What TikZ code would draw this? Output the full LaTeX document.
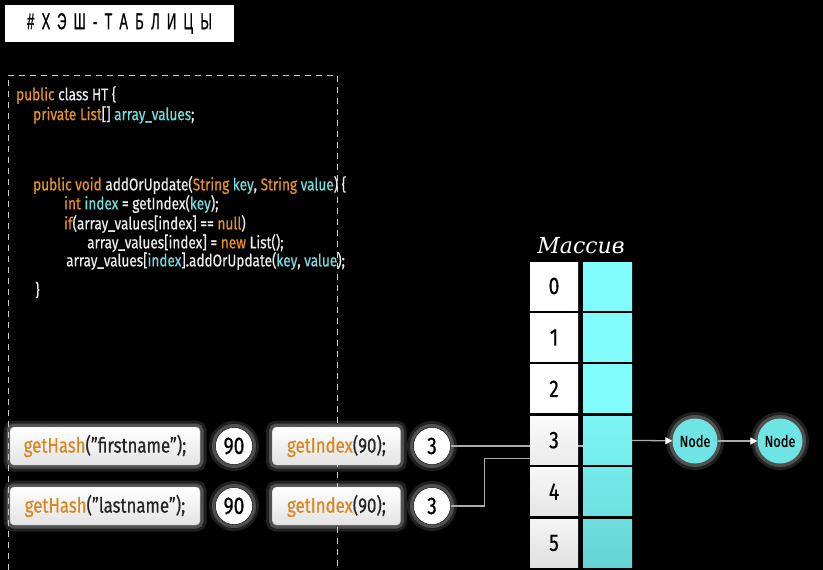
\documentclass[tikz,border=0pt]{standalone}
\usepackage{fontspec}
\setmainfont{Fira Sans}[FakeStretch=0.8, FakeBold=0.6]
\newfontfamily\titlefont{Liberation Sans}[FakeStretch=0.56, FakeBold=0.8, LetterSpace=32]
\newfontfamily\handfont{DejaVu Serif}
\usetikzlibrary{arrows.meta}
\definecolor{kworange}{RGB}{230,145,35}
\definecolor{varcyan}{RGB}{115,220,220}
\definecolor{cellcyan}{RGB}{128,252,252}
\definecolor{cellcyandk}{RGB}{92,196,196}
\definecolor{nodecyan}{RGB}{110,228,228}
\definecolor{callorange}{RGB}{215,135,35}
\newcommand{\kw}[1]{\textcolor{kworange}{#1}}
\newcommand{\vr}[1]{\textcolor{varcyan}{#1}}
\newcommand{\fn}[1]{\textcolor{callorange}{#1}}
\tikzset{
	glow/.style={preaction={draw=white!70!black, line width=13pt, opacity=0.18},
		preaction={draw=white!75!black, line width=7pt, opacity=0.3}},
	codeline/.style={anchor=west, inner sep=0pt, text=white!92!black, font=\fontsize{17}{18}\selectfont},
	callbox/.style={glow, draw=gray!50, rounded corners=4pt, top color=white, bottom color=gray!22,
		minimum height=38, inner sep=0pt, text=black!85, font=\fontsize{21}{22}\selectfont},
	numcirc/.style={glow, circle, draw=black, fill=white, minimum size=37, inner sep=0pt,
		font=\fontsize{24}{24}\selectfont},
	idxcell/.style={minimum width=48, minimum height=48, inner sep=0pt, font=\fontsize{24}{24}\selectfont},
	listnode/.style={glow, circle, fill=nodecyan, minimum size=45, inner sep=0pt,
		font=\fontsize{16}{16}\selectfont},
	conn/.style={draw=gray!65, line width=1.3pt}
}
\begin{document}
\begin{tikzpicture}[x=1pt, y=-1pt]
	\fill[black] (0,0) rectangle (823,570);
	\useasboundingbox (0,0) rectangle (823,570);

	\node[fill=white, minimum width=229, minimum height=37, inner sep=0pt,
		font=\titlefont\fontsize{23}{23}\selectfont] (title) at (119.5,23.5) {\#ХЭШ-ТАБЛИЦЫ};

	\draw[white!80!black, line width=0.8pt, dash pattern=on 6pt off 5pt] (8,570) -- (8,75) -- (337,75) -- (337,570);

	\node[codeline] (l1) at (16,95)  {\kw{public} class HT \{};
	\node[codeline] (l2) at (33,115) {\kw{private List}[] \vr{array\_values};};
	\node[codeline] (l3) at (33,185) {\kw{public void} addOrUpdate(\kw{String} \vr{key}, \kw{String} \vr{value}) \{};
	\node[codeline] (l4) at (64,204) {\kw{int} \vr{index} = getIndex(\vr{key});};
	\node[codeline] (l5) at (64,224) {\kw{if}(array\_values[index] == \kw{null})};
	\node[codeline] (l6) at (87,243) {array\_values[index] = \kw{new} List();};
	\node[codeline] (l7) at (66,261) {array\_values[\vr{index}].addOrUpdate(\vr{key}, \vr{value});};
	\node[codeline] (l8) at (35,290) {\}};

	\node[callbox, minimum width=190] (hash1) at (105,446) {\fn{getHash}(”firstname”);};
	\node[numcirc] (h90a) at (234,446) {90};
	\node[callbox, minimum width=128] (index1) at (336.5,446) {\fn{getIndex}(90);};
	\node[numcirc] (i3a) at (432,446) {3};

	\node[callbox, minimum width=190] (hash2) at (105,506) {\fn{getHash}(”lastname”);};
	\node[numcirc] (h90b) at (234,506) {90};
	\node[callbox, minimum width=128] (index2) at (336.5,506) {\fn{getIndex}(90);};
	\node[numcirc] (i3b) at (432,506) {3};

	\node[text=white, font=\handfont\itshape\fontsize{22}{22}\selectfont] (arrtitle) at (581,246) {Массив};

	\foreach \i/\top/\bot/\ct/\cb in {0/0/0/100/100, 1/0/0/100/100, 2/0/0/100/100,
		3/4/16/88/72, 4/6/20/66/50, 5/8/24/44/28} {
		\coordinate (row\i) at (0,286+51.4*\i);
		\node[idxcell, minimum width=49, top color=cellcyan!\ct!cellcyandk, bottom color=cellcyan!\cb!cellcyandk]
			(val\i) at (607.5,0 |- row\i) {};
	}
	\draw[conn] (i3a.east) -- (i3a.east -| val3.west);
	\foreach \i/\top/\bot in {0/0/0, 1/0/0, 2/0/0, 3/4/16, 4/6/20, 5/8/24} {
		\node[idxcell, top color=gray!\top, bottom color=gray!\bot] (idx\i) at (554,0 |- row\i) {\i};
	}
	\draw[conn] (i3b.east) -- ++(34,0) |- ([yshift=-18pt]idx3.west);

	\node[listnode] (n1) at (695,441) {Node};
	\node[listnode] (n2) at (780,441) {Node};

	\draw[conn, -{Triangle[length=7pt, width=7pt, color=white]}] (val3) -- (n1);
	\draw[conn, -{Triangle[length=7pt, width=7pt, color=white]}] (n1) -- (n2);
\end{tikzpicture}
\end{document}
